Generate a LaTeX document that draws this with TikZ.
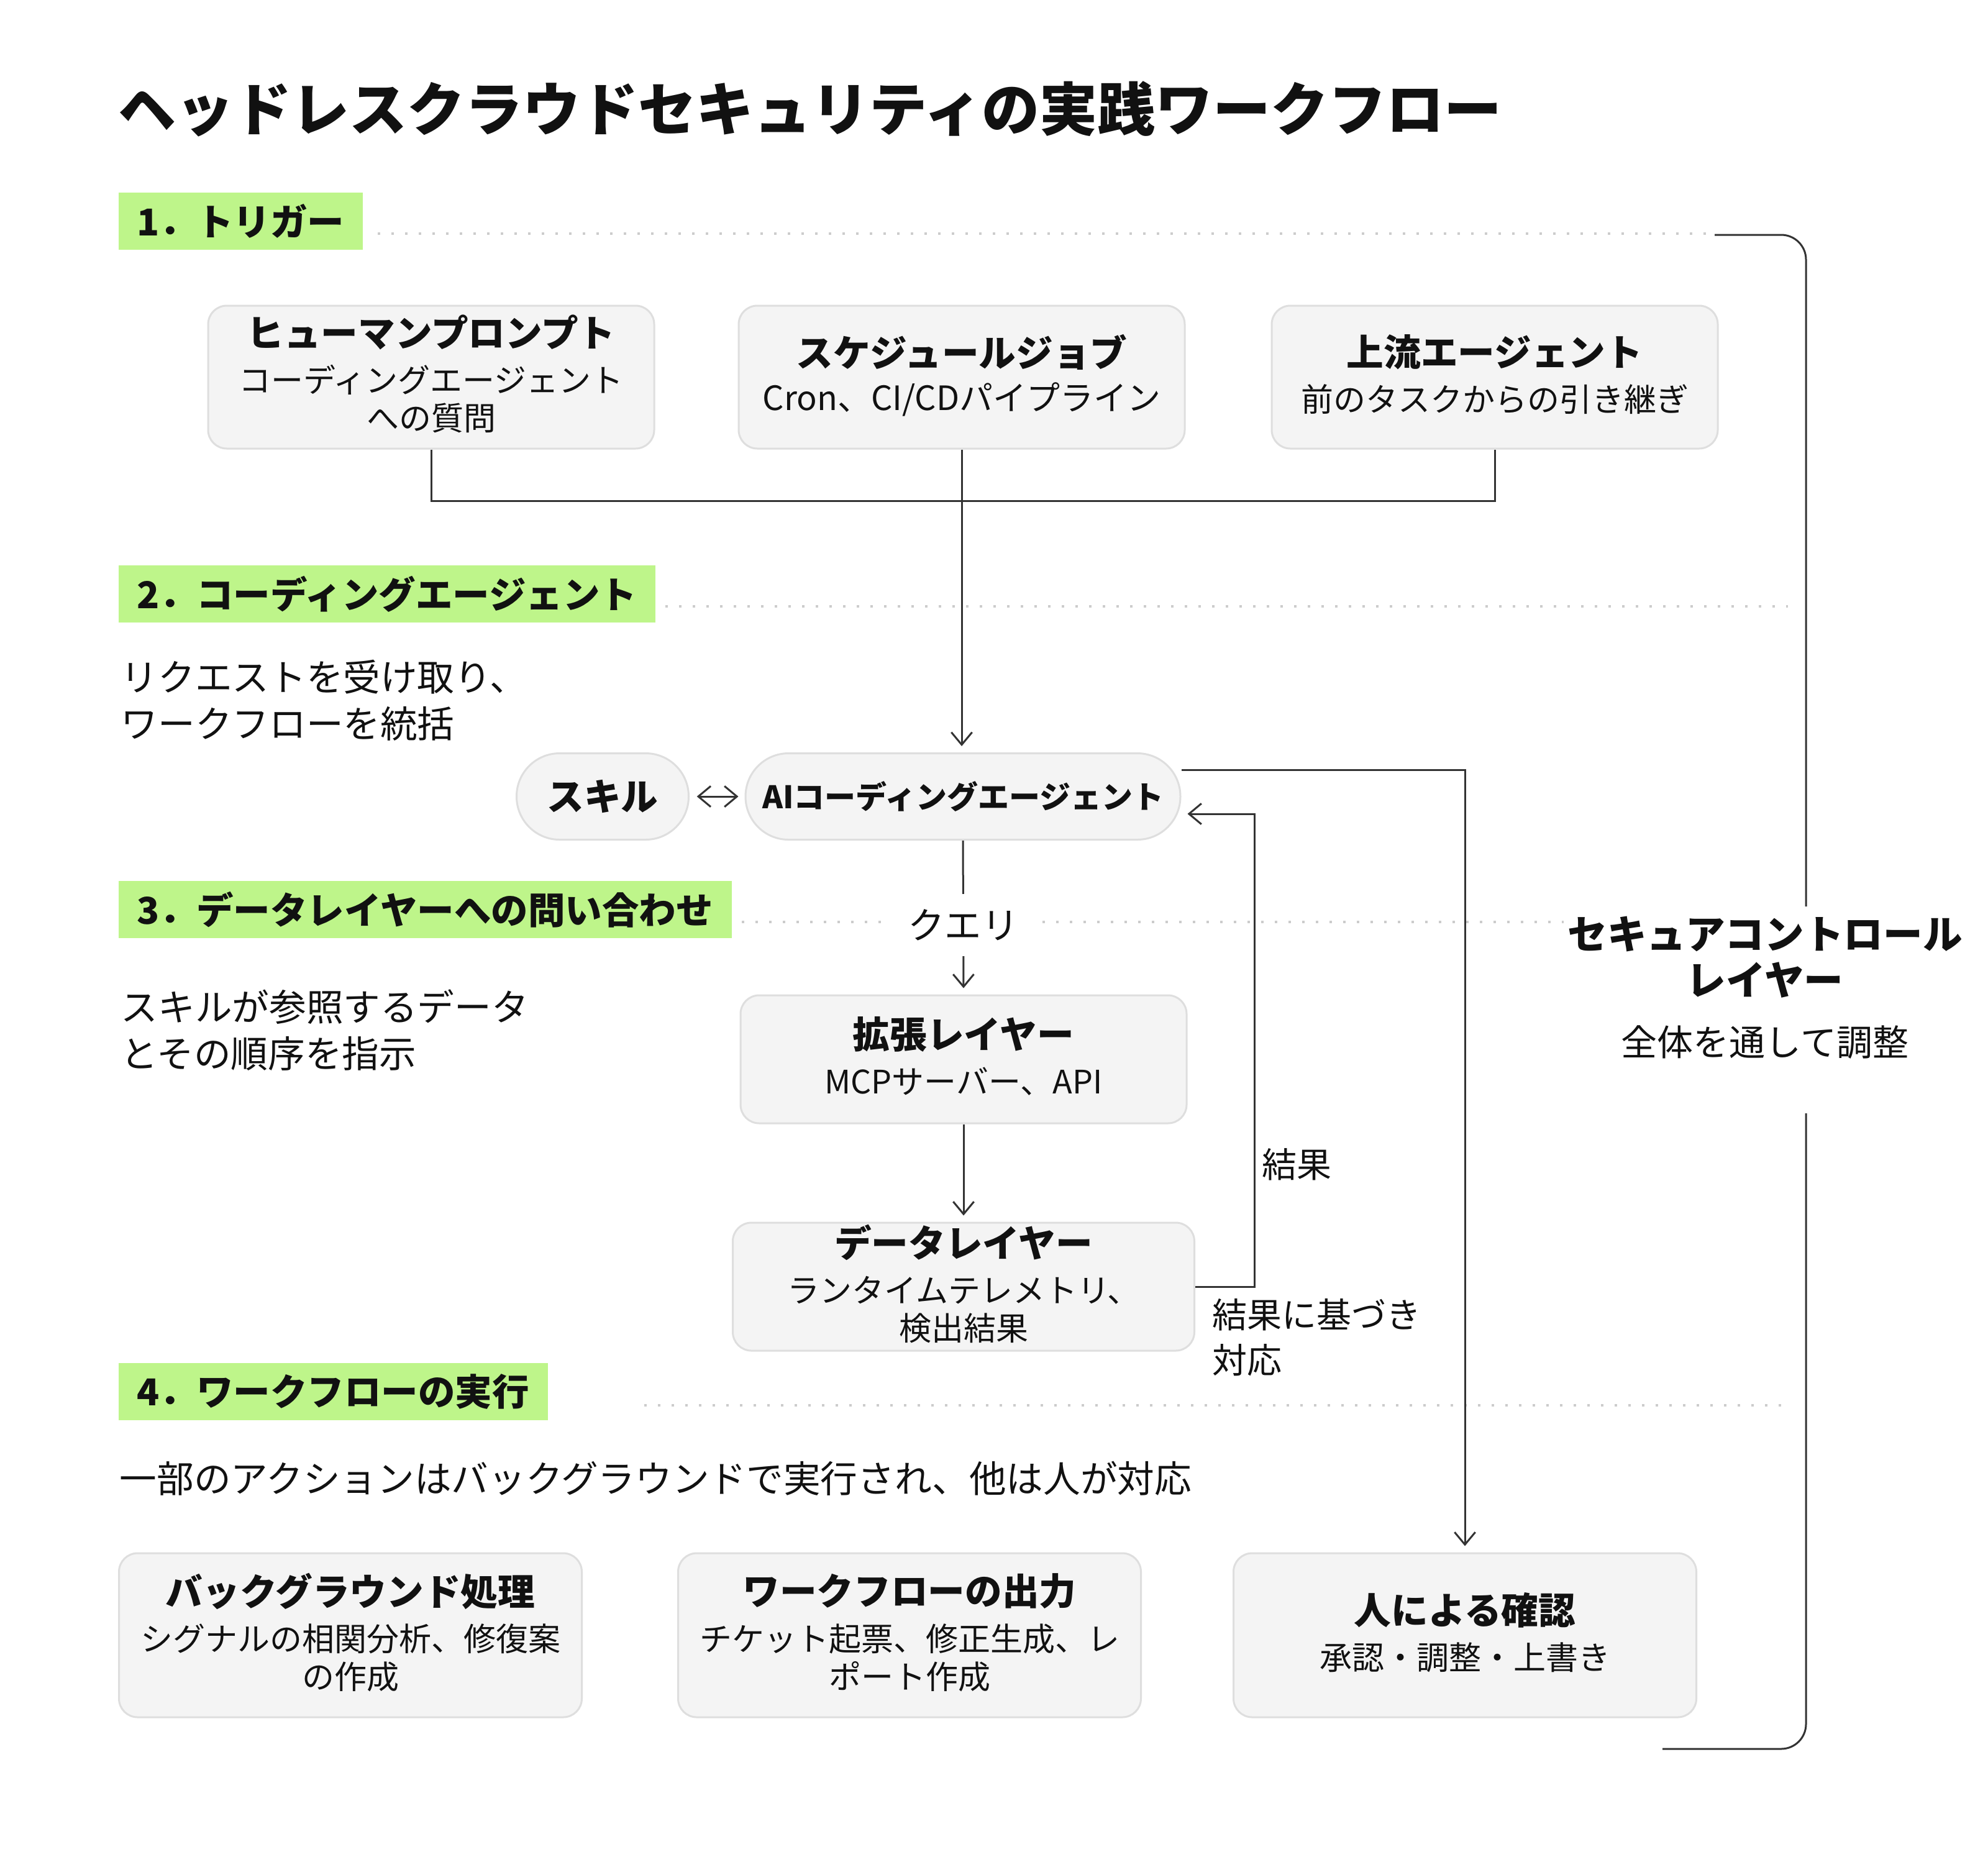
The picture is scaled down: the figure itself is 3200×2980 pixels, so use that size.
\documentclass[tikz,border=0pt]{standalone}
\usepackage{fontspec}
\setmainfont{Noto Sans CJK JP}
\usetikzlibrary{arrows.meta}
\definecolor{labg}{RGB}{190,245,138}
\definecolor{boxfill}{RGB}{244,244,244}
\definecolor{boxdraw}{RGB}{222,222,222}
\definecolor{ln}{RGB}{51,51,51}
\definecolor{dotc}{RGB}{204,204,204}
\definecolor{txt}{RGB}{17,17,17}
\tikzset{
  secl/.style={fill=labg, anchor=west, minimum height=27.6pt, inner xsep=9pt, inner ysep=0pt, font=\bfseries\fontsize{17.85pt}{20pt}\selectfont},
  dots/.style={dotc, line width=1.2pt, dash pattern=on 1.2pt off 5.4pt},
  boxs/.style={draw=boxdraw, fill=boxfill, line width=0.9pt, rounded corners=9pt, inner sep=0pt},
  bt/.style={font=\bfseries\fontsize{17.9pt}{21pt}\selectfont, inner sep=0pt},
  bsub/.style={font=\fontsize{15.6pt}{18.3pt}\selectfont, align=center, inner sep=0pt},
  body/.style={font=\fontsize{17.9pt}{22.5pt}\selectfont, align=left, inner sep=0pt, anchor=west},
  conn/.style={ln, line width=0.9pt},
  arr/.style={conn, -{Straight Barb[length=6pt,width=10pt]}, shorten >=3pt},
}
\begin{document}
\begin{tikzpicture}[x=0.3pt, y=-0.3pt, every node/.append style={text=txt}]
\fill[white] (0,0) rectangle (3200,2980);
\useasboundingbox (0,0) rectangle (3200,2980);

% title
\node[anchor=west, inner sep=0pt, font=\bfseries\fontsize{27.9pt}{32pt}\selectfont] (title) at (190,175) {ヘッドレスクラウドセキュリティの実践ワークフロー};

% dotted separators
\coordinate (d1s) at (608,376);  \coordinate (d1e) at (2760,376);
\coordinate (d2s) at (1071,976); \coordinate (d2e) at (2878,976);
\coordinate (d3s) at (1194,1484); \coordinate (d3e) at (2517,1484);
\coordinate (d4s) at (1037,2262); \coordinate (d4e) at (2868,2262);
\draw[dots] (d1s) -- (d1e);
\draw[dots] (d2s) -- (d2e);
\draw[dots] (d3s) -- (d3e);
\draw[dots] (d4s) -- (d4e);

% section labels
\node[secl] (l1) at (190,356) {1．トリガー};
\node[secl] (l2) at (190,956) {2．コーディングエージェント};
\node[secl] (l3) at (190,1464) {3．データレイヤーへの問い合わせ};
\node[secl] (l4) at (190,2240) {4．ワークフローの実行};

% body texts
\node[body] (t2) at (194,1127) {リクエストを受け取り、\\ワークフローを統括};
\node[body] (t3) at (194,1658) {スキルが参照するデータ\\とその順序を指示};
\node[body] (t4) at (192,2380) {一部のアクションはバックグラウンドで実行され、他は人が対応};

% trigger boxes
\node[boxs, minimum width=215.4pt, minimum height=69pt] (h) at (694,607) {};
\node[bt] (ht) at (694,535) {ヒューマンプロンプト};
\node[bsub] (hs) at (694,642) {コーディングエージェント\\への質問};

\node[boxs, minimum width=215.4pt, minimum height=69pt] (s) at (1548,607) {};
\node[bt] (st) at (1548,567) {スケジュールジョブ};
\node[bsub, font=\fontsize{16.2pt}{18.3pt}\selectfont] (ss) at (1548,643) {Cron、CI/CDパイプライン};

\node[boxs, minimum width=215.4pt, minimum height=69pt] (u) at (2406,607) {};
\node[bt] (ut) at (2406,567) {上流エージェント};
\node[bsub] (us) at (2406,643) {前のタスクからの引き継ぎ};

% agent & skill
\node[boxs, rounded corners=20.8pt, minimum width=210pt, minimum height=41.7pt] (ag) at (1550,1282) {};
\node[inner sep=0pt, font=\bfseries\fontsize{15pt}{18pt}\selectfont] (agt) at (1550,1282) {AIコーディングエージェント};
\node[boxs, rounded corners=20.8pt, minimum width=83.1pt, minimum height=41.7pt] (sk) at (970,1282) {};
\node[bt] (skt) at (970,1282) {スキル};

% extension & data layers
\node[boxs, minimum width=215.4pt, minimum height=61.8pt] (ext) at (1551,1705) {};
\node[bt] (extt) at (1551,1665) {拡張レイヤー};
\node[bsub] (exts) at (1551,1741) {MCPサーバー、API};

\node[boxs, minimum width=222.9pt, minimum height=61.8pt] (data) at (1551,2071) {};
\node[bt] (datat) at (1551,2000) {データレイヤー};
\node[bsub] (datas) at (1551,2108) {ランタイムテレメトリ、\\検出結果};

% bottom boxes
\node[boxs, minimum width=223.5pt, minimum height=79.2pt] (bg) at (564,2632) {};
\node[bt] (bgt) at (564,2561) {バックグラウンド処理};
\node[bsub] (bgs) at (564,2668) {シグナルの相関分析、修復案\\の作成};

\node[boxs, minimum width=223.5pt, minimum height=79.2pt] (wf) at (1464,2632) {};
\node[bt] (wft) at (1464,2561) {ワークフローの出力};
\node[bsub] (wfs) at (1464,2668) {チケット起票、修正生成、レ\\ポート作成};

\node[boxs, minimum width=223.5pt, minimum height=79.2pt] (hc) at (2358,2632) {};
\node[bt] (hct) at (2358,2592) {人による確認};
\node[bsub] (hcs) at (2358,2668) {承認・調整・上書き};

% secure control layer
\node[inner sep=0pt, align=center, font=\bfseries\fontsize{19.1pt}{22.2pt}\selectfont] (sec1) at (2841,1541) {セキュアコントロール\\レイヤー};
\node[inner sep=0pt, font=\fontsize{17.4pt}{20pt}\selectfont] (sec2) at (2841,1678) {全体を通して調整};
\coordinate (b0) at (2760,378);
\coordinate (b1) at (2907,1459);
\coordinate (b2) at (2907,1792);
\coordinate (b3) at (2676,2815);
\draw[conn, rounded corners=12pt] (b0) -| (b1);
\draw[conn, rounded corners=12pt] (b2) |- (b3);

% connectors
\coordinate (m) at (1548,806);
\draw[conn] (h.south) |- (m) -| (u.south);
\draw[arr] (s.south) -- (s.south |- ag.north);
\draw[conn, {Straight Barb[length=6pt,width=10pt]}-{Straight Barb[length=6pt,width=10pt]}, shorten <=3.5pt, shorten >=3pt] (sk.east) -- (ag.west);
\draw[arr] (ag.south) -- node[pos=0.55, fill=white, inner xsep=9pt, inner ysep=7.5pt, font=\fontsize{17.8pt}{20pt}\selectfont] (q) {クエリ} (ext.north);
\draw[arr] (ext.south) -- (data.north);

\coordinate (r1) at (2019,2071);
\coordinate (r2) at (2019,1310);
\draw[arr] (data.east) -- (r1) -- (r2) -- (ag.east |- r2);
\node[body, font=\fontsize{16.8pt}{20pt}\selectfont] (res) at (2031,1874) {結果};

\coordinate (a1) at (2358,1239);
\draw[arr] (ag.east |- a1) -- (a1) -- (hc.north);
\node[body, font=\fontsize{16.8pt}{21.9pt}\selectfont] (act) at (1951,2153) {結果に基づき\\対応};
\end{tikzpicture}
\end{document}
